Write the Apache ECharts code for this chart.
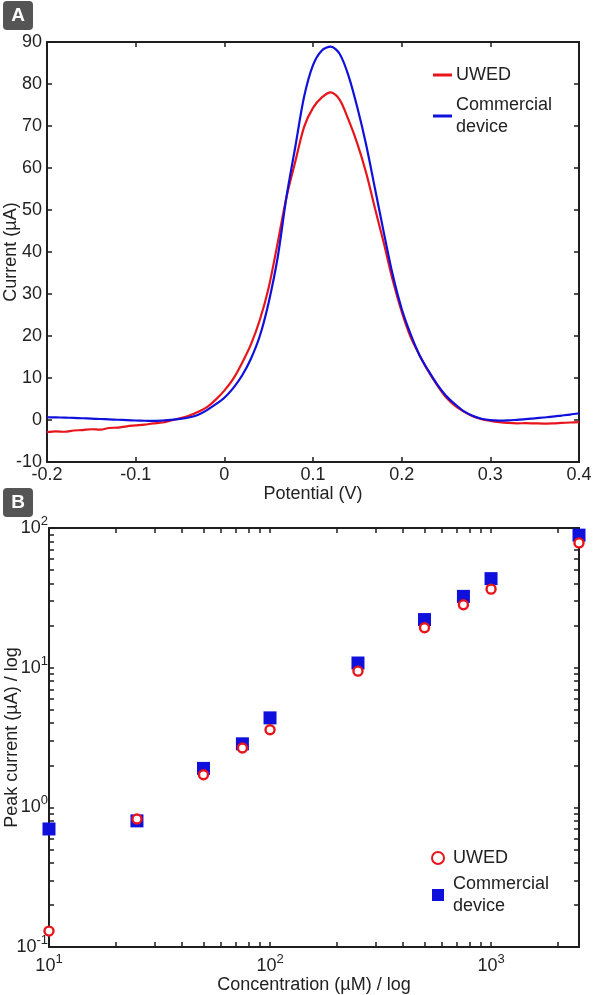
<!DOCTYPE html>
<html>
<head>
<meta charset="utf-8">
<script src="https://cdn.jsdelivr.net/npm/echarts@6/dist/echarts.min.js"></script>
<style>
html,body{margin:0;padding:0;background:#fff;}
#chart{width:594px;height:995px;}
</style>
</head>
<body>
<div id="chart"></div>
<script>
// ---------- Panel A data ----------
const potential = [-0.20,-0.19,-0.18,-0.17,-0.16,-0.15,-0.14,-0.13,-0.12,-0.11,
  -0.10,-0.09,-0.08,-0.07,-0.06,-0.05,-0.04,-0.03,-0.02,-0.01,
  0.00,0.01,0.02,0.03,0.04,0.05,0.06,0.07,0.08,0.09,
  0.10,0.11,0.12,0.13,0.14,0.15,0.16,0.17,0.18,0.19,
  0.20,0.21,0.22,0.23,0.24,0.25,0.26,0.27,0.28,0.29,
  0.30,0.31,0.32,0.33,0.34,0.35,0.36,0.37,0.38,0.39,0.40];
const uwedCurrent = [-2.9,-2.7,-2.8,-2.5,-2.4,-2.2,-2.3,-1.9,-1.8,-1.5,
  -1.3,-1.1,-0.8,-0.6,-0.1,0.4,1.0,1.9,3.0,4.8,
  7.0,9.8,13.6,18.0,23.8,31.5,42.0,53.0,61.5,69.8,
  74.3,76.8,78.0,76.3,71.5,65.8,58.8,50.3,42.0,33.2,
  25.8,19.8,15.5,11.6,8.3,5.4,3.4,2.0,0.9,0.2,
  -0.2,-0.5,-0.7,-0.8,-0.75,-0.8,-0.85,-0.8,-0.7,-0.6,-0.5];
const commercialCurrent = [0.65,0.62,0.57,0.5,0.42,0.33,0.24,0.15,0.06,-0.02,
  -0.12,-0.18,-0.2,-0.12,0.02,0.25,0.6,1.2,2.3,3.7,
  5.3,7.6,10.6,14.6,20.0,28.0,38.5,53.0,65.0,77.0,
  84.5,88.0,88.9,87.2,82.0,74.4,65.5,55.0,44.5,34.5,
  26.5,20.5,15.5,11.8,8.5,5.8,3.8,2.1,1.0,0.3,
  -0.05,-0.15,-0.1,0.05,0.2,0.4,0.6,0.8,1.05,1.3,1.6];

// ---------- Panel B data ----------
const concentration = [10,25,50,75,100,250,500,750,1000,2500];
const uwedPeak = [0.13,0.825,1.71,2.66,3.59,9.44,19.3,28.2,36.5,78.2];
const commercialPeak = [0.70,0.80,1.90,2.85,4.37,10.8,22.1,32.4,43.4,88.9];

// ---------- Tick values ----------
const logXMajor = [10,100,1000];
const logXMinor = [10,20,30,40,50,60,70,80,90,100,200,300,400,500,600,700,800,900,1000,2000];
const logYMajor = [0.1,1,10,100];
const logYMinor = [0.1,0.2,0.3,0.4,0.5,0.6,0.7,0.8,0.9,1,2,3,4,5,6,7,8,9,10,20,30,40,50,60,70,80,90,100];

const FONT = "'Liberation Sans', Arial, sans-serif";
const TXT = '#222';
const RED = '#e8141c';
const BLUE = '#1010dc';
const axisLine = {show:true, onZero:false, lineStyle:{color:'#1e1e1e', width:2}};
const tickIn = {show:true, inside:true, length:5, lineStyle:{color:'#1e1e1e', width:1.5}};
const lbl = {color:TXT, fontSize:18, fontFamily:FONT};
const nameStyle = {color:TXT, fontSize:18, fontFamily:FONT};

function supFmt(v){
  const e = Math.round(Math.log10(v));
  return '{b|10}{s|' + e + '}';
}
const supRich = {
  b:{fontSize:18, fontFamily:FONT, color:TXT},
  s:{fontSize:13, fontFamily:FONT, color:TXT, padding:[0,0,13,0]}
};

const chart = echarts.init(document.getElementById('chart'), null, {renderer:'canvas'});
chart.setOption({
  animation:false,
  backgroundColor:'#fff',
  graphic:[
    {type:'group', left:3, top:1, children:[
      {type:'rect', shape:{x:0,y:0,width:30,height:29,r:4}, style:{fill:'#555'}},
      {type:'text', x:15, y:15, style:{text:'A', fill:'#fff', font:'bold 19px '+FONT, align:'center', verticalAlign:'middle'}}
    ]},
    {type:'group', left:3, top:488, children:[
      {type:'rect', shape:{x:0,y:0,width:30,height:29,r:4}, style:{fill:'#555'}},
      {type:'text', x:15, y:15, style:{text:'B', fill:'#fff', font:'bold 19px '+FONT, align:'center', verticalAlign:'middle'}}
    ]}
  ],
  grid:[
    {left:47, top:42, width:532, height:420, outerBoundsMode:'none', containLabel:false},
    {left:49, top:528, width:530, height:419, outerBoundsMode:'none', containLabel:false}
  ],
  legend:[
    {orient:'vertical', left:428, top:59, itemGap:8, itemWidth:19, itemHeight:3, icon:'rect',
     textStyle:{color:TXT, fontSize:18, fontFamily:FONT, lineHeight:22, padding:[0,0,0,-1]},
     data:['A:UWED','A:Commercial\ndevice'],
     formatter:n=>n.slice(2)},
    {orient:'vertical', left:426, top:842, itemGap:4, itemWidth:12, itemHeight:12,
     textStyle:{color:TXT, fontSize:18, fontFamily:FONT, lineHeight:22, padding:[0,0,0,4]},
     data:['B:UWED','B:Commercial\ndevice'],
     formatter:n=>n.slice(2)}
  ],
  xAxis:[
    {gridIndex:0, type:'value', position:'bottom', min:-0.2, max:0.4, interval:0.1,
     axisLine:axisLine, axisTick:tickIn, splitLine:{show:false},
     axisLabel:Object.assign({margin:4}, lbl),
     name:'Potential (V)', nameLocation:'middle', nameGap:22, nameTextStyle:nameStyle},
    {gridIndex:0, type:'value', position:'top', min:-0.2, max:0.4, interval:0.1,
     axisLine:axisLine, axisTick:tickIn, splitLine:{show:false}, axisLabel:{show:false}},
    {gridIndex:1, type:'log', logBase:10, position:'bottom', min:10, max:2500,
     axisLine:axisLine, splitLine:{show:false},
     axisTick:Object.assign({customValues:logXMinor}, tickIn),
     axisLabel:{customValues:logXMajor, formatter:supFmt, rich:supRich, margin:6},
     name:'Concentration (µM) / log', nameLocation:'middle', nameGap:27, nameTextStyle:nameStyle},
    {gridIndex:1, type:'log', logBase:10, position:'top', min:10, max:2500,
     axisLine:axisLine, splitLine:{show:false},
     axisTick:Object.assign({customValues:logXMinor}, tickIn),
     axisLabel:{show:false}}
  ],
  yAxis:[
    {gridIndex:0, type:'value', position:'left', min:-10, max:90, interval:10,
     axisLine:axisLine, axisTick:tickIn, splitLine:{show:false},
     axisLabel:Object.assign({margin:5}, lbl),
     name:'Current (µA)', nameLocation:'middle', nameGap:27, nameMoveOverlap:false, nameTextStyle:nameStyle},
    {gridIndex:0, type:'value', position:'right', min:-10, max:90, interval:10,
     axisLine:axisLine, axisTick:tickIn, splitLine:{show:false}, axisLabel:{show:false}},
    {gridIndex:1, type:'log', logBase:10, position:'left', min:0.1, max:100,
     axisLine:axisLine, splitLine:{show:false},
     axisTick:Object.assign({customValues:logYMinor}, tickIn),
     axisLabel:{customValues:logYMajor, formatter:supFmt, rich:supRich, margin:1},
     name:'Peak current (µA) / log', nameLocation:'middle', nameGap:28, nameMoveOverlap:false, nameTextStyle:nameStyle},
    {gridIndex:1, type:'log', logBase:10, position:'right', min:0.1, max:100,
     axisLine:axisLine, splitLine:{show:false},
     axisTick:Object.assign({customValues:logYMinor}, tickIn),
     axisLabel:{show:false}}
  ],
  series:[
    {name:'A:UWED', type:'line', xAxisIndex:0, yAxisIndex:0, showSymbol:false, smooth:0.3,
     lineStyle:{color:RED, width:2.2}, itemStyle:{color:RED},
     data:potential.map((v,i)=>[v, uwedCurrent[i]]), z:3},
    {name:'A:Commercial\ndevice', type:'line', xAxisIndex:0, yAxisIndex:0, showSymbol:false, smooth:0.3,
     lineStyle:{color:BLUE, width:2.2}, itemStyle:{color:BLUE},
     data:potential.map((v,i)=>[v, commercialCurrent[i]]), z:4},
    {name:'B:Commercial\ndevice', type:'scatter', xAxisIndex:2, yAxisIndex:2, symbol:'rect', symbolSize:13,
     itemStyle:{color:BLUE, opacity:1},
     data:concentration.map((c,i)=>[c, commercialPeak[i]]), z:3},
    {name:'B:UWED', type:'scatter', xAxisIndex:2, yAxisIndex:2, symbol:'circle', symbolSize:9,
     itemStyle:{color:'#fff', borderColor:RED, borderWidth:2.4, opacity:1},
     data:concentration.map((c,i)=>[c, uwedPeak[i]]), z:4}
  ]
});
</script>
</body>
</html>
